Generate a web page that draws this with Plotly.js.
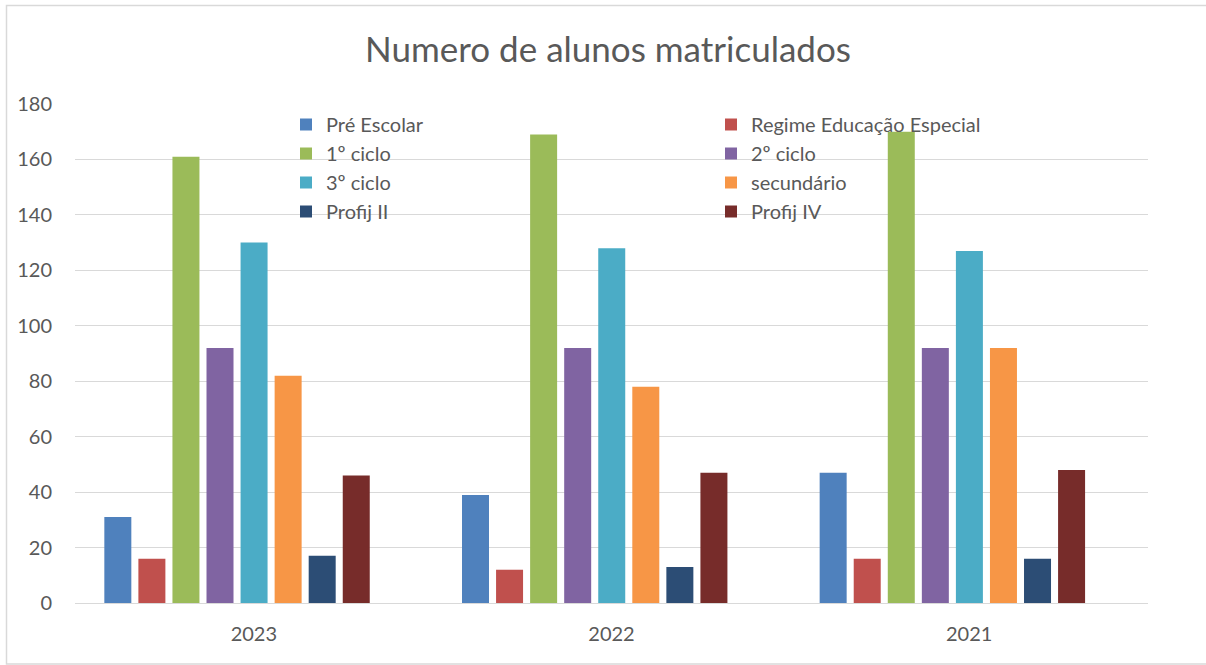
<!DOCTYPE html>
<html>
<head>
<meta charset="utf-8">
<script src="https://cdn.plot.ly/plotly-3.0.1.min.js"></script>
<style>html,body{margin:0;padding:0;background:#fff;}#chart{width:1206px;height:665px;}</style>
</head>
<body>
<div id="chart"></div>
<script>
const years = ["2023", "2022", "2021"];
const seriesNames = ["Pré Escolar", "Regime Educação Especial", "1º ciclo", "2º ciclo", "3º ciclo", "secundário", "Profij II", "Profij IV"];
const preEscolar = [31, 39, 47];
const regimeEspecial = [16, 12, 16];
const ciclo1 = [161, 169, 170];
const ciclo2 = [92, 92, 92];
const ciclo3 = [130, 128, 127];
const secundario = [82, 78, 92];
const profijII = [17, 13, 16];
const profijIV = [46, 47, 48];
const seriesValues = [preEscolar, regimeEspecial, ciclo1, ciclo2, ciclo3, secundario, profijII, profijIV];
const colors = ["#4f81bd", "#c0504d", "#9bbb59", "#8064a2", "#4bacc6", "#f79646", "#2c4d75", "#772c2a"];

const W = 1206, H = 665, L = 75, R = 58, T = 104, B = 62;
const pw = W - L - R;
const catW = pw / 3;
const barW = 27 / catW, pitch = 34.06 / catW, first = -0.418;

const traces = seriesNames.map((n, i) => ({
  type: "bar",
  name: n,
  x: years,
  y: seriesValues[i],
  width: barW,
  offset: first + i * pitch,
  marker: {color: colors[i], line: {width: 0}},
  hoverinfo: "x+y+name"
}));

const font = "Lato, 'Open Sans', sans-serif";
const px = v => (v - L) / pw;
const py = v => (H - B - v) / (H - T - B);

const layout = {
  width: W, height: H,
  margin: {l: L, r: R, t: T, b: B, pad: 0, autoexpand: false},
  paper_bgcolor: "#fff", plot_bgcolor: "#fff",
  font: {family: font, color: "#595959", size: 20},
  title: {text: "Numero de alunos matriculados", font: {family: font, size: 35, color: "#595959"}, x: 608 / W, xanchor: "center", y: 1 - 50 / H, yanchor: "middle"},
  barmode: "overlay",
  showlegend: true,
  legend: {
    orientation: "h", x: px(286), y: py(105), xanchor: "left", yanchor: "top",
    entrywidth: 380, entrywidthmode: "pixels",
    font: {family: font, size: 20, color: "#595959"},
    bgcolor: "rgba(0,0,0,0)", traceorder: "normal", tracegroupgap: 0, itemclick: false
  },
  xaxis: {
    type: "category", range: [-0.5, 2.5], showgrid: false, zeroline: false, showline: false,
    ticks: "", ticklabelstandoff: 17, tickfont: {family: font, size: 20, color: "#595959"}, fixedrange: true
  },
  yaxis: {
    range: [0, 180], dtick: 20, tick0: 0, showgrid: true, gridcolor: "#d9d9d9", gridwidth: 1.3,
    zeroline: true, zerolinecolor: "#d9d9d9", zerolinewidth: 1.3, showline: false, ticks: "",
    ticklabelstandoff: 22, tickfont: {family: font, size: 20, color: "#595959"}, fixedrange: true
  },
  shapes: [{
    type: "rect", xref: "paper", yref: "paper",
    x0: px(6.5), x1: px(1210), y0: py(664), y1: py(5.5),
    line: {color: "#d9d9d9", width: 1.5}, fillcolor: "rgba(0,0,0,0)", layer: "below"
  }]
};

Plotly.newPlot("chart", traces, layout, {displayModeBar: false, staticPlot: false});
</script>
</body>
</html>
